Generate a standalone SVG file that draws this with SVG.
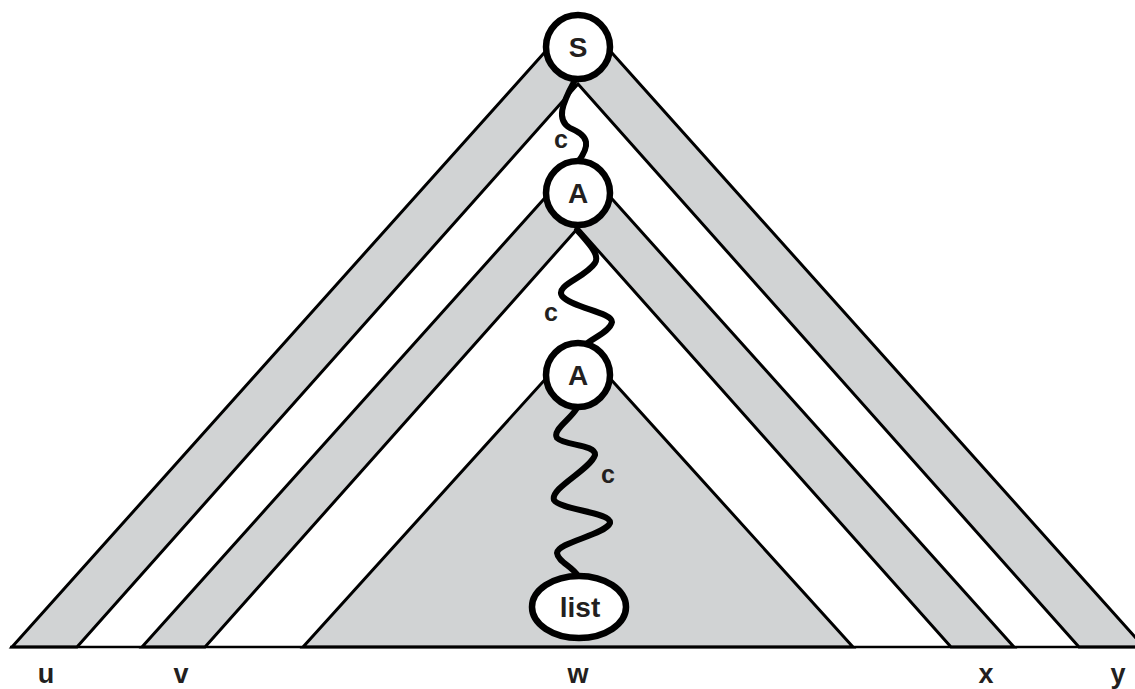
<svg xmlns="http://www.w3.org/2000/svg" width="1135" height="689" viewBox="0 0 1135 689">
<style>
.band{fill:#d1d3d4;stroke:#000;stroke-width:3;stroke-linejoin:miter}
.base{stroke:#000;stroke-width:2.5}
.wig{fill:none;stroke:#000;stroke-width:6;stroke-linecap:round}
.node{fill:#fff;stroke:#000;stroke-width:6.5}
.lbl{font-family:"Liberation Sans",Arial,sans-serif;font-weight:bold;fill:#231f20;text-anchor:middle}
</style>
<rect width="1135" height="689" fill="#fff"/>
<g id="outer-band">
<polygon class="band" points="578,15 12,647 77,647 578,84 1079,647 1144,647"/>
</g>
<g id="middle-band">
<polygon class="band" points="578,161 142,647 205,647 578,228 951,647 1014,647"/>
</g>
<g id="inner-triangle">
<polygon class="band" points="578,343 303,647 853,647"/>
</g>
<line class="base" x1="10" y1="647" x2="1135" y2="647"/>
<g id="connectors">
<path class="wig" d="M574,82 C562,104 556,120 570,128 C590,136 590,146 578,162"/>
<path class="wig" d="M577,230 C590,245 600,255 595,263 C585,278 555,285 562,296 C572,308 612,312 612,322 C610,332 592,338 584,346"/>
<path class="wig" d="M577,408 C570,420 552,430 557,438 C565,446 596,444 595,455 C590,470 550,488 554,500 C560,510 612,512 610,523 C605,535 558,542 557,553 C558,562 572,566 578,576"/>
</g>
<g id="labels-c">
<text class="lbl" x="561" y="148" font-size="25">c</text>
<text class="lbl" x="551" y="321" font-size="25">c</text>
<text class="lbl" x="608" y="483" font-size="25">c</text>
</g>
<g id="node-S">
<circle class="node" cx="578" cy="47" r="32"/>
<text class="lbl" x="578" y="57" font-size="28">S</text>
</g>
<g id="node-A1">
<circle class="node" cx="578" cy="193" r="32"/>
<text class="lbl" x="578" y="203" font-size="28">A</text>
</g>
<g id="node-A2">
<circle class="node" cx="578" cy="375" r="32"/>
<text class="lbl" x="578" y="385" font-size="28">A</text>
</g>
<g id="node-list">
<ellipse class="node" cx="579" cy="607" rx="47" ry="31"/>
<text class="lbl" x="580" y="617" font-size="28">list</text>
</g>
<g id="labels-bottom">
<text class="lbl" x="46" y="683" font-size="27">u</text>
<text class="lbl" x="181" y="683" font-size="27">v</text>
<text class="lbl" x="578" y="683" font-size="27">w</text>
<text class="lbl" x="986" y="683" font-size="27">x</text>
<text class="lbl" x="1118" y="683" font-size="27">y</text>
</g>
</svg>
